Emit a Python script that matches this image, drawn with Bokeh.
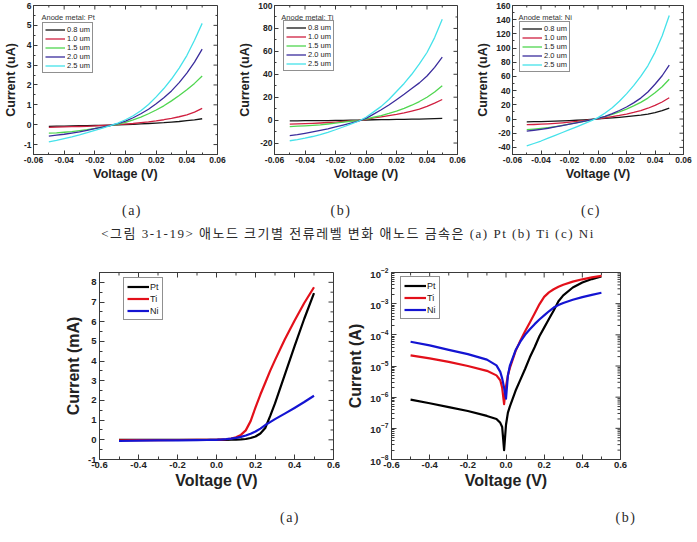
from math import pi

from bokeh.plotting import figure
from bokeh.layouts import column, row
from bokeh.models import (Div, Spacer, Legend, LegendItem, Label, FixedTicker,
                          PrintfTickFormatter, Range1d)
from bokeh.embed import file_html
from bokeh.resources import INLINE

# ---------------- small-bias sweeps (current in uA) ----------------
v_sweep = [-0.05, -0.045, -0.04, -0.035, -0.03, -0.025, -0.02, -0.015, -0.01, -0.005,
           0.0, 0.005, 0.01, 0.015, 0.02, 0.025, 0.03, 0.035, 0.04, 0.045, 0.05]
size_labels = ["0.8 um", "1.0 um", "1.5 um", "2.0 um", "2.5 um"]
size_colors = ["#151515", "#d02040", "#4fd64f", "#3a2c9c", "#45e2ea"]

# anode metal: Pt
pt_08 = [-0.08, -0.07, -0.07, -0.06, -0.05, -0.05, -0.04, -0.03, -0.02, -0.01, 0.01,
         0.02, 0.04, 0.06, 0.08, 0.10, 0.13, 0.16, 0.20, 0.24, 0.30]
pt_10 = [-0.13, -0.12, -0.11, -0.10, -0.09, -0.08, -0.06, -0.04, -0.02, 0.00, 0.03,
         0.06, 0.10, 0.14, 0.19, 0.25, 0.32, 0.40, 0.50, 0.63, 0.82]
pt_15 = [-0.42, -0.41, -0.38, -0.35, -0.30, -0.25, -0.19, -0.12, -0.05, 0.02, 0.12,
         0.24, 0.38, 0.55, 0.74, 0.95, 1.20, 1.47, 1.76, 2.08, 2.45]
pt_20 = [-0.58, -0.53, -0.48, -0.42, -0.36, -0.28, -0.20, -0.12, -0.04, 0.05, 0.18,
         0.35, 0.55, 0.78, 1.05, 1.36, 1.70, 2.12, 2.60, 3.15, 3.80]
pt_25 = [-0.87, -0.79, -0.70, -0.61, -0.51, -0.40, -0.28, -0.17, -0.05, 0.08, 0.25,
         0.45, 0.70, 1.02, 1.40, 1.82, 2.30, 2.85, 3.48, 4.25, 5.10]

# anode metal: Ti
ti_08 = [-0.6, -0.6, -0.5, -0.5, -0.4, -0.4, -0.3, -0.2, -0.1, -0.05, 0.1,
         0.3, 0.4, 0.5, 0.6, 0.7, 0.8, 0.9, 1.1, 1.3, 1.5]
ti_10 = [-3.5, -3.3, -3.1, -2.8, -2.5, -2.1, -1.7, -1.2, -0.7, -0.3, 0.5,
         1.9, 2.9, 3.9, 5.0, 6.3, 7.9, 9.6, 12.0, 14.8, 18.0]
ti_15 = [-5.6, -5.3, -5.0, -4.6, -4.1, -3.4, -2.6, -1.8, -1.0, -0.4, 0.8,
         2.5, 4.0, 5.8, 7.9, 10.2, 13.0, 16.2, 20.0, 24.5, 30.0]
ti_20 = [-13.5, -12.6, -11.5, -10.3, -9.0, -7.6, -6.0, -4.3, -2.6, -0.8, 1.5,
         5.2, 9.0, 13.2, 17.8, 22.5, 27.5, 32.5, 38.5, 46.0, 55.0]
ti_25 = [-18.0, -17.0, -15.8, -14.3, -12.6, -10.6, -8.4, -6.0, -3.5, -1.0, 2.5,
         7.2, 12.0, 18.0, 25.0, 32.0, 40.0, 49.0, 59.0, 72.0, 88.0]

# anode metal: Ni
ni_08 = [-4.0, -3.8, -3.6, -3.3, -3.0, -2.6, -2.2, -1.7, -1.1, -0.5, 0.2,
         0.9, 1.6, 2.4, 3.3, 4.3, 5.5, 7.0, 9.0, 11.8, 15.5]
ni_10 = [-8.0, -7.7, -7.3, -6.8, -6.2, -5.4, -4.5, -3.4, -2.2, -0.9, 0.4,
         1.8, 3.3, 5.0, 7.0, 9.3, 12.0, 15.2, 19.2, 24.0, 30.0]
ni_15 = [-15.0, -14.2, -13.2, -12.0, -10.6, -9.0, -7.2, -5.2, -3.2, -1.2, 0.8,
         3.4, 6.5, 10.0, 14.0, 18.5, 23.5, 29.5, 37.0, 45.5, 56.0]
ni_20 = [-17.0, -15.8, -14.5, -13.0, -11.2, -9.3, -7.3, -5.3, -3.3, -1.3, 0.8,
         3.8, 7.5, 12.0, 17.0, 22.8, 29.5, 38.0, 49.0, 61.0, 76.0]
ni_25 = [-38.0, -34.5, -31.0, -27.0, -23.0, -19.0, -15.0, -11.0, -6.8, -2.5, 2.0,
         8.5, 16.0, 25.0, 35.5, 47.0, 60.0, 75.0, 94.0, 117.0, 146.0]

x_ticks_small = [-0.06, -0.04, -0.02, 0.0, 0.02, 0.04, 0.06]
x_minor_small = [-0.05, -0.03, -0.01, 0.01, 0.03, 0.05]
pt_yticks = [-1, 0, 1, 2, 3, 4, 5, 6]
pt_yminor = [-1.5, -0.5, 0.5, 1.5, 2.5, 3.5, 4.5, 5.5]
ti_yticks = [-20, 0, 20, 40, 60, 80, 100]
ti_yminor = [-30, -10, 10, 30, 50, 70, 90]
ni_yticks = [-40, -20, 0, 20, 40, 60, 80, 100, 120, 140, 160]
ni_yminor = [-50, -30, -10, 10, 30, 50, 70, 90, 110, 130, 150]

# ---------------- wide sweeps (current in A) ----------------
v_bias = [-0.5, -0.4, -0.3, -0.2, -0.1, -0.05, -0.03, -0.02, -0.01, 0.0, 0.01, 0.02,
          0.05, 0.075, 0.1, 0.125, 0.15, 0.175, 0.2, 0.225, 0.25, 0.275, 0.3,
          0.35, 0.4, 0.45, 0.5]
metal_labels = ["Pt", "Ti", "Ni"]
metal_colors = ["#000000", "#e3101a", "#1414d2"]
i_pt = [-8.3e-7, -6.4e-7, -4.8e-7, -3.6e-7, -2.5e-7, -2.0e-7, -1.5e-7, -1.1e-7, -2.0e-8,
        1.3e-7, 3.2e-7, 5.0e-7, 1.6e-6, 3.6e-6, 8.0e-6, 1.9e-5, 4.0e-5, 9.0e-5, 1.7e-4,
        3.2e-4, 6.0e-4, 1.2e-3, 1.85e-3, 3.3e-3, 4.75e-3, 6.15e-3, 7.45e-3]
i_ti = [-2.2e-5, -1.75e-5, -1.35e-5, -1.0e-5, -7.0e-6, -5.0e-6, -3.5e-6, -2.0e-6, -6.0e-7,
        2.2e-6, 5.0e-6, 8.5e-6, 3.0e-5, 6.5e-5, 1.3e-4, 2.5e-4, 4.8e-4, 9.5e-4, 1.65e-3,
        2.3e-3, 2.9e-3, 3.5e-3, 4.05e-3, 5.1e-3, 6.05e-3, 6.95e-3, 7.75e-3]
i_ni = [-6.0e-5, -4.6e-5, -3.3e-5, -2.4e-5, -1.6e-5, -1.05e-5, -6.5e-6, -4.0e-6, -2.0e-6,
        9.0e-7, 5.0e-6, 1.0e-5, 3.2e-5, 6.0e-5, 1.0e-4, 1.5e-4, 2.2e-4, 3.1e-4, 4.2e-4,
        5.7e-4, 7.5e-4, 9.0e-4, 1.05e-3, 1.33e-3, 1.62e-3, 1.92e-3, 2.24e-3]

x_ticks_wide = [-0.6, -0.4, -0.2, 0.0, 0.2, 0.4, 0.6]
x_minor_wide = [-0.5, -0.3, -0.1, 0.1, 0.3, 0.5]
ma_yticks = [-1, 0, 1, 2, 3, 4, 5, 6, 7, 8]
ma_yminor = [-0.5, 0.5, 1.5, 2.5, 3.5, 4.5, 5.5, 6.5, 7.5, 8.5]
log_yticks = [1e-8, 1e-7, 1e-6, 1e-5, 1e-4, 1e-3, 1e-2]
log_yminor = [m * d for d in log_yticks[:-1] for m in range(2, 10)]

FONT = "Liberation Sans"
INK = "#222222"
FRAME = "#3a3a3a"


def style_axis(ax, tick_px, label_px, tick_in, minor_in):
    ax.axis_line_color = FRAME
    ax.axis_line_width = 1
    ax.major_tick_line_color = FRAME
    ax.minor_tick_line_color = FRAME
    ax.major_tick_in = tick_in
    ax.major_tick_out = 0
    ax.minor_tick_in = minor_in
    ax.minor_tick_out = 0
    ax.major_label_text_font = FONT
    ax.major_label_text_font_style = "bold"
    ax.major_label_text_font_size = tick_px
    ax.major_label_text_color = INK
    ax.major_label_standoff = 3
    ax.axis_label_text_font = FONT
    ax.axis_label_text_font_style = "bold"
    ax.axis_label_text_font_size = label_px
    ax.axis_label_text_color = INK
    ax.axis_label_standoff = 3


def mirror_ticks(p, x_hi, y_hi, xt, xm, yt, ym, major, minor):
    """Inward ticks along the top and right edges of the frame."""
    kw = dict(length_units="screen", line_color=FRAME, line_width=1)
    p.ray(x=xt, y=[y_hi] * len(xt), length=major, angle=-pi / 2, **kw)
    p.ray(x=xm, y=[y_hi] * len(xm), length=minor, angle=-pi / 2, **kw)
    p.ray(x=[x_hi] * len(yt), y=yt, length=major, angle=pi, **kw)
    p.ray(x=[x_hi] * len(ym), y=ym, length=minor, angle=pi, **kw)


def small_panel(metal, curves, y_lo, y_hi, y_ticks, y_minor, width, left, right,
                legend_xy, title_xy):
    p = figure(width=width, height=190, title=None,
               x_range=Range1d(-0.06, 0.06), y_range=Range1d(y_lo, y_hi),
               output_backend="svg", toolbar_location=None,
               min_border_left=left, min_border_right=right,
               min_border_top=5, min_border_bottom=36)
    p.xgrid.visible = False
    p.ygrid.visible = False
    p.outline_line_color = FRAME
    p.background_fill_color = "white"
    p.border_fill_color = "white"

    p.xaxis.ticker = FixedTicker(ticks=x_ticks_small, minor_ticks=x_minor_small)
    p.xaxis.formatter = PrintfTickFormatter(format="%.2f")
    p.yaxis.ticker = FixedTicker(ticks=y_ticks, minor_ticks=y_minor)
    p.yaxis.formatter = PrintfTickFormatter(format="%d")
    style_axis(p.xaxis[0], "8.5px", "12.5px", 4, 2)
    style_axis(p.yaxis[0], "8.5px", "12.5px", 4, 2)
    p.xaxis.axis_label = "Voltage (V)"
    p.yaxis.axis_label = "Current (uA)"
    p.xaxis.axis_label_standoff = 1
    p.xaxis.major_label_standoff = 2
    p.yaxis.major_label_standoff = 2
    mirror_ticks(p, 0.06, y_hi, x_ticks_small, x_minor_small, y_ticks, y_minor, 4, 2)

    items = []
    for lab, col, ys in zip(size_labels, size_colors, curves):
        r = p.line(v_sweep, ys, line_color=col, line_width=1.3, line_join="round")
        items.append(LegendItem(label=lab, renderers=[r]))
    leg = Legend(items=items, location=legend_xy,
                 label_text_font=FONT, label_text_font_size="7.5px",
                 label_text_color=INK, label_height=9, glyph_height=9,
                 glyph_width=20, label_width=20, label_standoff=2, spacing=0,
                 padding=2, margin=0, border_line_color="#222222",
                 border_line_width=1, background_fill_color="white",
                 background_fill_alpha=1)
    p.add_layout(leg)
    p.add_layout(Label(x=title_xy[0], y=title_xy[1], text="Anode metal: " + metal,
                       text_font=FONT, text_font_size="7.5px", text_color="#333333",
                       text_baseline="middle"))
    return p


f_pt = small_panel("Pt", [pt_08, pt_10, pt_15, pt_20, pt_25], -1.5, 6,
                   pt_yticks, pt_yminor, 235, 33, 18, (9, 81), (-0.0548, 5.4))
f_ti = small_panel("Ti", [ti_08, ti_10, ti_15, ti_20, ti_25], -30, 100,
                   ti_yticks, ti_yminor, 237, 37, 15, (9, 83), (-0.0555, 89.5))
f_ni = small_panel("Ni", [ni_08, ni_10, ni_15, ni_20, ni_25], -50, 160,
                   ni_yticks, ni_yminor, 225, 40, 14, (7, 82), (-0.0558, 143))


def wide_panel(width, left, right, log_scale, legend_xy):
    common = dict(width=width, height=250, title=None,
                  x_range=Range1d(-0.6, 0.6), output_backend="svg",
                  toolbar_location=None, min_border_left=left,
                  min_border_right=right, min_border_top=17, min_border_bottom=46)
    if log_scale:
        p = figure(y_axis_type="log", y_range=Range1d(1e-8, 1e-2), **common)
        y_ticks, y_minor, y_hi = log_yticks, log_yminor, 1e-2
        ys = [[abs(v) for v in cur] for cur in (i_pt, i_ti, i_ni)]
        ylab = "Current (A)"
    else:
        p = figure(y_range=Range1d(-1, 8.5), **common)
        y_ticks, y_minor, y_hi = ma_yticks, ma_yminor, 8.5
        ys = [[v * 1e3 for v in cur] for cur in (i_pt, i_ti, i_ni)]
        ylab = "Current (mA)"
        p.yaxis.formatter = PrintfTickFormatter(format="%d")
    p.xgrid.visible = False
    p.ygrid.visible = False
    p.outline_line_color = FRAME
    p.xaxis.ticker = FixedTicker(ticks=x_ticks_wide, minor_ticks=x_minor_wide)
    p.xaxis.formatter = PrintfTickFormatter(format="%.1f")
    p.yaxis.ticker = FixedTicker(ticks=y_ticks, minor_ticks=y_minor)
    style_axis(p.xaxis[0], "9.5px", "16px", 5, 3)
    style_axis(p.yaxis[0], "9.5px", "16px", 5, 3)
    p.xaxis.axis_label = "Voltage (V)"
    p.yaxis.axis_label = ylab
    p.xaxis.axis_label_standoff = 1
    p.xaxis.major_label_standoff = 2
    mirror_ticks(p, 0.6, y_hi, x_ticks_wide, x_minor_wide, y_ticks, y_minor, 5, 3)

    items = []
    for lab, col, y in zip(metal_labels, metal_colors, ys):
        r = p.line(v_bias, y, line_color=col, line_width=2.2, line_join="round")
        items.append(LegendItem(label=lab, renderers=[r]))
    leg = Legend(items=items, location=legend_xy,
                 label_text_font=FONT, label_text_font_size="9px",
                 label_text_color=INK, label_height=11, glyph_height=11,
                 glyph_width=22, label_width=8, label_standoff=1, spacing=1,
                 padding=3, margin=0, border_line_color="#222222",
                 border_line_width=1, background_fill_color="white",
                 background_fill_alpha=1)
    p.add_layout(leg)
    return p


g_lin = wide_panel(282, 36, 11, False, (24, 139))
g_log = wide_panel(353, 43, 77, True, (9, 140))

SERIF = "font-family:'Liberation Serif','Noto Sans CJK KR',serif;"


def tag(text, cx, cy, size):
    return ('<span style="position:absolute;left:%dpx;top:%dpx;transform:translate(-50%%,-50%%);'
            'font-size:%s;letter-spacing:1.5px;white-space:nowrap;">%s</span>' % (cx, cy, size, text))


caption_text = "&lt;그림 3-1-19&gt; 애노드 크기별 전류레벨 변화 애노드 금속은 (a) Pt (b) Ti (c) Ni"
top_html = ('<div style="position:relative;width:697px;height:65px;color:#2a2a2a;' + SERIF + '">'
            + tag("(a)", 132, 21, "14px") + tag("(b)", 341, 21, "14px") + tag("(c)", 591, 21, "14px")
            + tag(caption_text, 348, 44, "13px") + '</div>')
bottom_html = ('<div style="position:relative;width:697px;height:37px;color:#2a2a2a;' + SERIF + '">'
               + tag("(a)", 290, 13, "14px") + tag("(b)", 626, 13, "14px") + '</div>')

cap_top = Div(text=top_html, width=697, height=65, styles={"margin": "0", "padding": "0"})
cap_bottom = Div(text=bottom_html, width=697, height=37, styles={"margin": "0", "padding": "0"})

layout = column(
    row(f_pt, f_ti, f_ni, spacing=0),
    cap_top,
    row(Spacer(width=62, height=250), g_lin, g_log, spacing=0),
    cap_bottom,
    spacing=0,
)

open("out.html", "w").write(file_html(layout, INLINE))
